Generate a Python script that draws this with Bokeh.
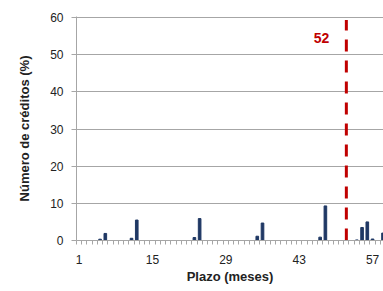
from bokeh.plotting import figure
from bokeh.models import Range1d, FixedTicker
from bokeh.embed import file_html
from bokeh.resources import INLINE
from bokeh.core.properties import value

# Data
plazos = list(range(1, 61))
porcentajes = [0, 0, 0, 0, 0.35, 1.9, 0, 0, 0, 0,
               0.6, 5.5, 0, 0, 0, 0, 0, 0, 0, 0,
               0, 0, 0.8, 5.9, 0, 0, 0, 0, 0, 0,
               0, 0, 0, 0, 1.15, 4.7, 0, 0, 0, 0,
               0, 0, 0, 0, 0, 0, 0.9, 9.3, 0, 0,
               0, 0, 0, 0.15, 3.5, 5.0, 0.4, 0, 2.0, 0]
x_tick_labels = [1, 15, 29, 43, 57]
y_ticks = [0, 10, 20, 30, 40, 50, 60]
plazo_referencia = 52

FONT = "Liberation Sans"
GRAY = "#A6A6A6"
TXT = "#222222"

p = figure(width=383, height=291, output_backend="svg", toolbar_location=None,
           x_range=Range1d(0.5, 59.09), y_range=Range1d(0, 60.27),
           min_border_left=76, min_border_right=0, min_border_top=16,
           min_border_bottom=51)
p.outline_line_color = None
p.background_fill_color = "white"
p.border_fill_color = "white"

p.vbar(x=plazos, top=porcentajes, width=0.5, color="#1F3864")

# Reference dashed line
p.segment(x0=[plazo_referencia], y0=[0], x1=[plazo_referencia], y1=[59.3],
          line_color="#C00000", line_width=3, line_dash="12 9")
p.text(x=[plazo_referencia], y=[54.4], text=[str(plazo_referencia)],
       x_offset=-17, text_align="right", text_baseline="middle",
       text_color="#C00000", text_font=value(FONT), text_font_style="bold",
       text_font_size="14px")

# X axis
p.xaxis.ticker = FixedTicker(ticks=x_tick_labels,
                             minor_ticks=[c - 0.5 for c in plazos] + [plazos[-1] + 0.5])
p.xaxis.major_tick_line_color = None
p.xaxis.major_tick_out = 0
p.xaxis.major_tick_in = 0
p.xaxis.minor_tick_line_color = GRAY
p.xaxis.minor_tick_out = 4
p.xaxis.minor_tick_in = 0
p.xaxis.axis_line_color = GRAY
p.xaxis.major_label_standoff = 10
p.xaxis.major_label_text_font = FONT
p.xaxis.major_label_text_font_size = "12px"
p.xaxis.major_label_text_color = TXT
p.xaxis.axis_label = "Plazo (meses)"
p.xaxis.axis_label_text_font = FONT
p.xaxis.axis_label_text_font_size = "13px"
p.xaxis.axis_label_text_font_style = "bold"
p.xaxis.axis_label_text_color = TXT
p.xaxis.axis_label_standoff = 2
p.xgrid.grid_line_color = None

# Y axis
p.yaxis.ticker = FixedTicker(ticks=y_ticks, minor_ticks=[])
p.yaxis.axis_line_color = GRAY
p.yaxis.major_tick_line_color = GRAY
p.yaxis.major_tick_out = 5
p.yaxis.major_tick_in = 0
p.yaxis.minor_tick_line_color = None
p.yaxis.major_label_standoff = 8
p.yaxis.major_label_text_font = FONT
p.yaxis.major_label_text_font_size = "12px"
p.yaxis.major_label_text_color = TXT
p.yaxis.axis_label = "Número de créditos (%)"
p.yaxis.axis_label_text_font = FONT
p.yaxis.axis_label_text_font_size = "13px"
p.yaxis.axis_label_text_font_style = "bold"
p.yaxis.axis_label_text_color = TXT
p.yaxis.axis_label_standoff = 15
p.ygrid.grid_line_color = GRAY
p.ygrid.grid_line_width = 1

open("out.html", "w").write(file_html(p, INLINE))
